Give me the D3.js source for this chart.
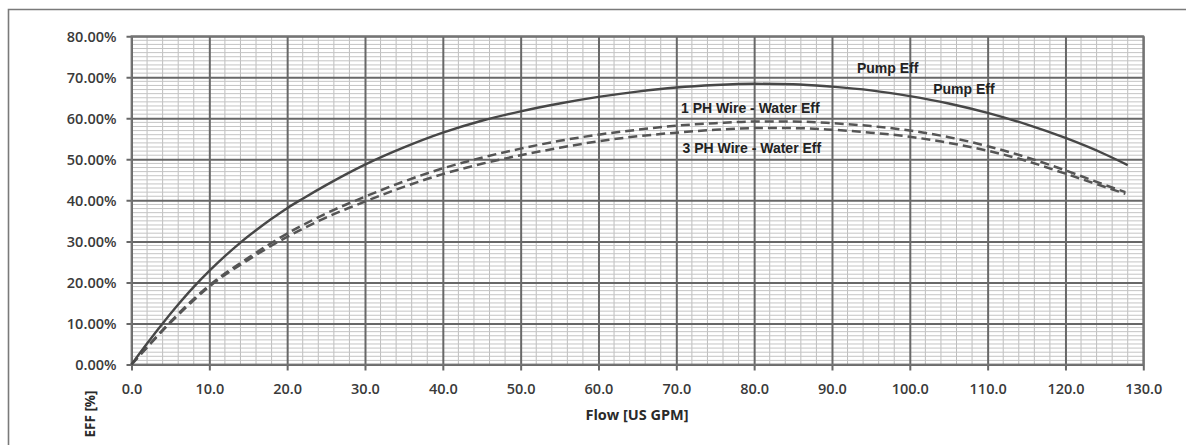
<!DOCTYPE html>
<html>
<head>
<meta charset="utf-8">
<script src="https://cdn.jsdelivr.net/npm/d3@7"></script>
<style>
  html, body { margin: 0; padding: 0; background: #fff; }
  svg { display: block; }
</style>
</head>
<body>
<svg id="chart" width="1186" height="445"></svg>
<script>
// ---- data ----
const flowPump = [0, 2, 4, 6, 8, 10, 12, 14, 16, 18, 20, 22, 25, 30, 35, 40, 45, 50, 55, 60, 65, 70, 75, 80, 85, 90, 95, 100, 105, 110, 115, 120, 125, 128];
const pumpEff  = [0, 5.1, 10, 14.6, 18.9, 22.8, 26.4, 29.7, 32.7, 35.5, 38.1, 40.4, 43.7, 48.7, 52.9, 56.5, 59.4, 61.7, 63.6, 65.2, 66.5, 67.5, 68.1, 68.4, 68.3, 67.7, 66.8, 65.4, 63.6, 61.3, 58.5, 55.2, 51.3, 48.6];

const flowWire = [0, 2.5, 5, 7.5, 10, 15, 20, 25, 30, 35, 40, 45, 50, 55, 60, 65, 70, 75, 80, 85, 90, 95, 100, 105, 110, 115, 120, 125, 127.7];
const ph1Eff   = [0, 5.3, 10.4, 15.1, 19.3, 26.0, 31.9, 36.8, 40.9, 44.6, 47.8, 50.4, 52.6, 54.5, 56, 57.2, 58.2, 58.8, 59.2, 59.2, 58.8, 58.1, 57, 55.4, 53.2, 50.5, 47.3, 43.8, 42];
const ph3Eff   = [0, 5.2, 10.2, 14.8, 19.0, 25.5, 31.1, 35.8, 39.7, 43.3, 46.4, 48.9, 51, 52.8, 54.4, 55.6, 56.5, 57.2, 57.6, 57.6, 57.2, 56.5, 55.5, 54, 52.1, 49.6, 46.5, 43.3, 41.6];

const xTicks = [0, 10, 20, 30, 40, 50, 60, 70, 80, 90, 100, 110, 120, 130];
const yTicks = [0, 10, 20, 30, 40, 50, 60, 70, 80];

const annotations = [
  { text: "Pump Eff", x: 93.2, y: 71.0 },
  { text: "Pump Eff", x: 103.0, y: 66.0 },
  { text: "1 PH Wire - Water Eff", x: 70.6, y: 61.2 },
  { text: "3 PH Wire - Water Eff", x: 70.8, y: 51.6 }
];

// ---- layout ----
const svg = d3.select("#chart");
const L = 131.5, R = 1143.3, T = 36.2, B = 364.5;
const x = d3.scaleLinear().domain([0, 130]).range([L, R]);
const y = d3.scaleLinear().domain([0, 80]).range([B, T]);

// outer frame
svg.append("path")
  .attr("d", `M8.5,450 L8.5,9.5 L1200,9.5`)
  .attr("fill", "none").attr("stroke", "#7a7a7a").attr("stroke-width", 1.6);

// minor grid
const g = svg.append("g");
g.selectAll("line.mx").data(d3.range(0, 131, 2).filter(v => v % 10 !== 0)).join("line")
  .attr("x1", d => x(d)).attr("x2", d => x(d)).attr("y1", T).attr("y2", B)
  .attr("stroke", "#bdbdbd").attr("stroke-width", 1);
g.selectAll("line.my").data(d3.range(0, 81, 1).filter(v => v % 10 !== 0)).join("line")
  .attr("x1", L).attr("x2", R).attr("y1", d => y(d)).attr("y2", d => y(d))
  .attr("stroke", "#c4c4c4").attr("stroke-width", 1);

// major grid with ticks (axes)
const xAxis = d3.axisBottom(x).tickValues(xTicks).tickSize(B - T + 6).tickFormat(d3.format(".1f")).tickPadding(10);
const yAxis = d3.axisLeft(y).tickValues(yTicks).tickSize(R - L + 5).tickFormat(d => d3.format(".2f")(d) + "%").tickPadding(10);

const gx = svg.append("g").attr("transform", `translate(0,${T})`).call(xAxis);
const gy = svg.append("g").attr("transform", `translate(${R},0)`).call(yAxis);
[gx, gy].forEach(a => {
  a.select(".domain").remove();
  a.selectAll(".tick line").attr("stroke", "#686868").attr("stroke-width", 2);
  a.selectAll(".tick text")
    .attr("fill", "#3a3a3a")
    .style("font-family", "'Open Sans', sans-serif")
    .style("font-size", "14.5px")
    .style("font-weight", 600);
});
gy.selectAll(".tick text").attr("dy", "0.35em");
gx.selectAll(".tick text").attr("dy", "0.9em");

// plot border
svg.append("rect").attr("x", L).attr("y", T).attr("width", R - L).attr("height", B - T)
  .attr("fill", "none").attr("stroke", "#747474").attr("stroke-width", 1.8);

// curves
const line = d3.line().curve(d3.curveMonotoneX);
const pumpPts = flowPump.map((f, i) => [x(f), y(pumpEff[i])]);
const ph1Pts = flowWire.map((f, i) => [x(f), y(ph1Eff[i])]);
const ph3Pts = flowWire.map((f, i) => [x(f), y(ph3Eff[i])]);

svg.append("path").attr("d", line(ph3Pts)).attr("fill", "none")
  .attr("stroke", "#555").attr("stroke-width", 2.5).attr("stroke-dasharray", "9,5");
svg.append("path").attr("d", line(ph1Pts)).attr("fill", "none")
  .attr("stroke", "#555").attr("stroke-width", 2.5).attr("stroke-dasharray", "9,5");
svg.append("path").attr("d", line(pumpPts)).attr("fill", "none")
  .attr("stroke", "#474747").attr("stroke-width", 2.4);

// annotations
svg.selectAll("text.ann").data(annotations).join("text")
  .attr("class", "ann")
  .attr("x", d => x(d.x)).attr("y", d => y(d.y))
  .attr("fill", "#222")
  .style("font-family", "'Liberation Sans', Arial, sans-serif")
  .style("font-size", "14px")
  .style("font-weight", 700)
  .text(d => d.text);

// axis titles
svg.append("text").attr("x", 637).attr("y", 420).attr("text-anchor", "middle")
  .attr("fill", "#2a2a2a")
  .style("font-family", "'Open Sans', sans-serif").style("font-size", "14.5px").style("font-weight", 700)
  .text("Flow [US GPM]");
svg.append("text").attr("transform", "translate(95,414) rotate(-90)").attr("text-anchor", "middle")
  .attr("fill", "#2a2a2a")
  .style("font-family", "'Open Sans', sans-serif").style("font-size", "13.5px").style("font-weight", 700)
  .text("EFF [%]");
</script>
</body>
</html>
